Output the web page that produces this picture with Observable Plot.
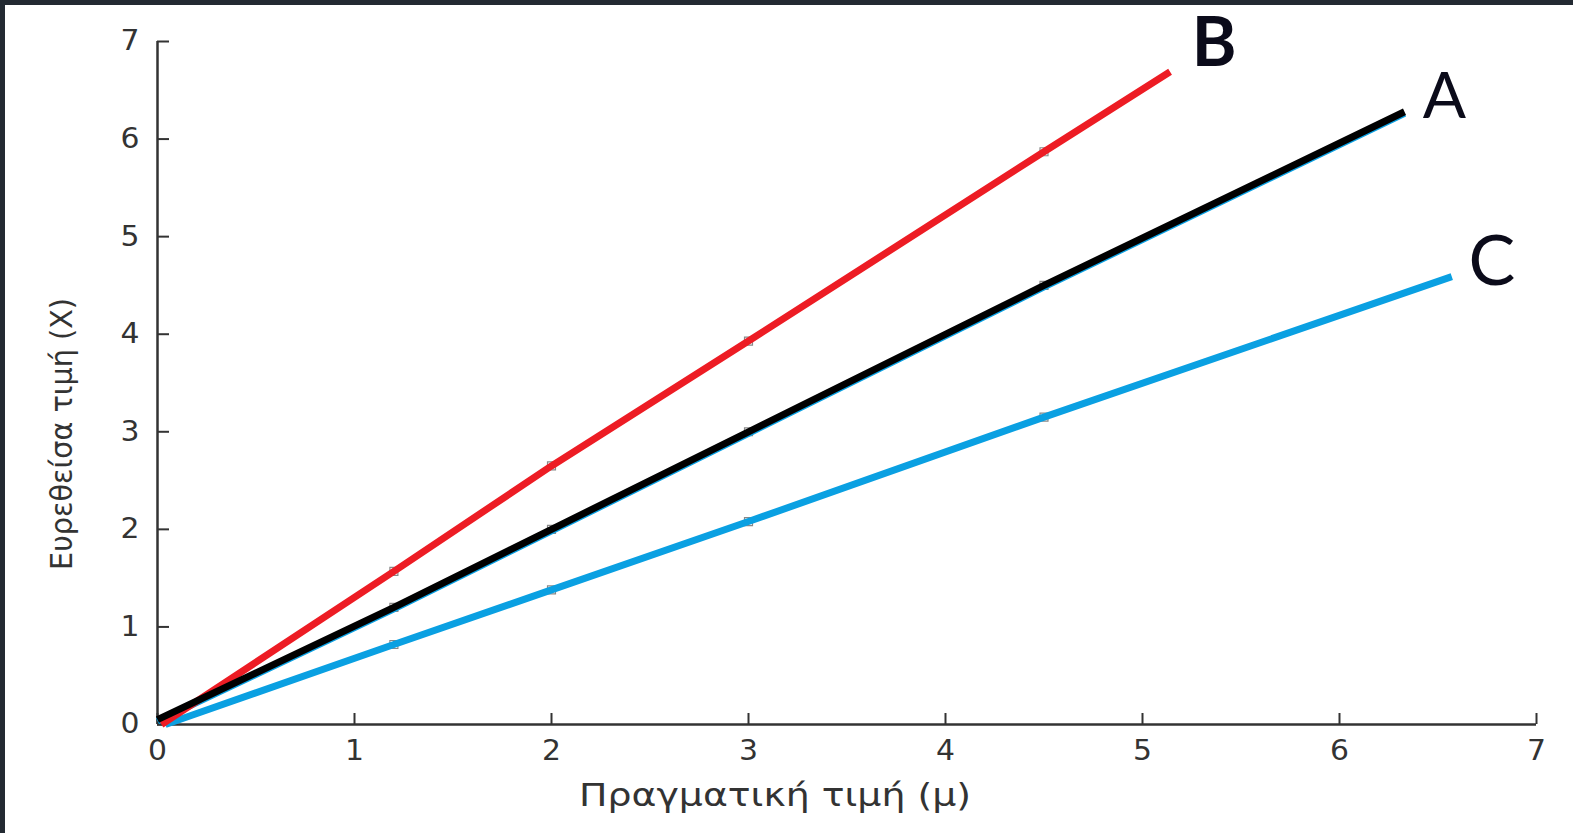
<!DOCTYPE html>
<html>
<head>
<meta charset="utf-8">
<script src="https://cdn.jsdelivr.net/npm/d3@7"></script>
<script src="https://cdn.jsdelivr.net/npm/@observablehq/plot@0.6"></script>
<style>
  html, body { margin: 0; padding: 0; background: #fff; }
  #wrap { position: relative; width: 1573px; height: 833px; overflow: hidden; }
  #frame { position: absolute; left: 0; top: 0; width: 1573px; height: 833px; box-sizing: border-box;
           border-top: 5px solid #232a32; border-left: 5px solid #232a32; pointer-events: none; }
</style>
</head>
<body>
<div id="wrap"><div id="frame"></div></div>
<script>
// Real value (μ) at which measurements were taken
const measureX = [1.2, 2, 3, 4.5];
// Found values (X) per method at those points
const valuesA = [1.2, 2.0, 3.0, 4.5];
const valuesB = [1.57, 2.65, 3.93, 5.87];
const valuesC = [0.82, 1.38, 2.08, 3.15];
const lineAx = [0, 1.2, 2, 3, 4.5, 6.33];
const lineAy = [0.05, 1.2, 2.0, 3.0, 4.5, 6.28];
const lineBx = [0.02, 1.2, 2, 3, 4.5, 5.14];
const lineBy = [0, 1.57, 2.65, 3.93, 5.87, 6.69];
const lineCx = [0.04, 1.2, 2, 3, 4.5, 6.57];
const lineCy = [0, 0.82, 1.38, 2.08, 3.15, 4.59];
const seriesNames = ["A", "B", "C"];
const seriesColors = ["#000000", "#ed1c24", "#0aa0e2"];
const xTicks = [0, 1, 2, 3, 4, 5, 6, 7];
const yTicks = [0, 1, 2, 3, 4, 5, 6, 7];
const xLabel = "Πραγματική τιμή (μ)";
const yLabel = "Ευρεθείσα τιμή (X)";

const toPts = (xs, ys, s) => xs.map((x, i) => ({x, y: ys[i], s}));
const lineA = toPts(lineAx, lineAy, "A");
const lineB = toPts(lineBx, lineBy, "B");
const lineC = toPts(lineCx, lineCy, "C");
const lineAunder = toPts(lineAx, lineAy, "C"); // blue line hidden under A
const markers = [
  ...toPts(measureX, valuesA, "A"),
  ...toPts(measureX, valuesB, "B"),
  ...toPts(measureX, valuesC, "C")
];
const ends = [lineA[lineA.length - 1], lineB[lineB.length - 1], lineC[lineC.length - 1]];

const tickFont = "'DejaVu Sans', Verdana, sans-serif";
const letterFont = "Lato, 'Open Sans', sans-serif";

const chart = Plot.plot({
  width: 1573,
  height: 833,
  marginLeft: 157,
  marginRight: 37,
  marginTop: 41,
  marginBottom: 109,
  style: {background: "transparent", fontFamily: tickFont, color: "#333", overflow: "visible"},
  x: {domain: [0, 7], label: null},
  y: {domain: [0, 7], label: null},
  color: {domain: seriesNames, range: seriesColors},
  marks: [
    Plot.axisX(xTicks, {tickSize: -11, tickPadding: 27, fontSize: 28, tickFormat: d3.format("d"), stroke: "#333", strokeWidth: 2, fill: "#333", label: null}),
    Plot.axisY(yTicks, {tickSize: -12, tickPadding: 30, fontSize: 28, tickFormat: d3.format("d"), stroke: "#333", strokeWidth: 2, fill: "#333", label: null}),
    Plot.ruleY([0], {stroke: "#333", strokeWidth: 2.5}),
    Plot.ruleX([0], {stroke: "#333", strokeWidth: 2.5}),
    Plot.dot(markers, {x: "x", y: "y", symbol: "square", r: 4.5, stroke: "#888", strokeWidth: 1.2, fill: "white"}),
    Plot.line(lineAunder, {x: "x", y: "y", stroke: "s", strokeWidth: 7, dy: 1.5, strokeLinecap: "butt"}),
    Plot.line(lineC, {x: "x", y: "y", stroke: "s", strokeWidth: 7, strokeLinecap: "butt"}),
    Plot.line(lineB, {x: "x", y: "y", stroke: "s", strokeWidth: 7, strokeLinecap: "butt"}),
    Plot.line(lineA, {x: "x", y: "y", stroke: "s", strokeWidth: 7, strokeLinecap: "butt"}),
    Plot.text([ends[1]], {x: "x", y: "y", text: "s", dx: 44, dy: -28, fontSize: 68, fontWeight: "bold", fill: "#0b0b1a", fontFamily: letterFont, textAnchor: "middle"}),
    Plot.text([ends[0]], {x: "x", y: "y", text: "s", dx: 40, dy: -14, fontSize: 64, fill: "#0b0b1a", fontFamily: letterFont, textAnchor: "middle"}),
    Plot.text([ends[2]], {x: "x", y: "y", text: "s", dx: 40, dy: -14, fontSize: 70, fill: "#0b0b1a", fontFamily: letterFont, textAnchor: "middle"}),
    Plot.text([xLabel], {frameAnchor: "bottom", dx: -72, dy: 71, fontSize: 32, lineAnchor: "middle", textAnchor: "middle", fill: "#333"}),
    Plot.text([yLabel], {frameAnchor: "left", rotate: -90, dx: -95, dy: 51, fontSize: 31, lineAnchor: "middle", textAnchor: "middle", fill: "#333"})
  ]
});
document.getElementById("wrap").insertBefore(chart, document.getElementById("frame"));

// Horizontal stretching of texts to match the reference's wide lettering
const svg = d3.select(chart);
svg.selectAll('g[aria-label="x-axis tick label"] text, g[aria-label="y-axis tick label"] text')
  .attr("textLength", 19).attr("lengthAdjust", "spacingAndGlyphs");
const textGroups = svg.selectAll('g[aria-label="text"]').nodes();
const xLabelText = d3.select(textGroups[textGroups.length - 2]).select("text");
const yLabelText = d3.select(textGroups[textGroups.length - 1]).select("text");
xLabelText.attr("textLength", 392).attr("lengthAdjust", "spacingAndGlyphs");
yLabelText.attr("textLength", 272).attr("lengthAdjust", "spacingAndGlyphs");
</script>
</body>
</html>
